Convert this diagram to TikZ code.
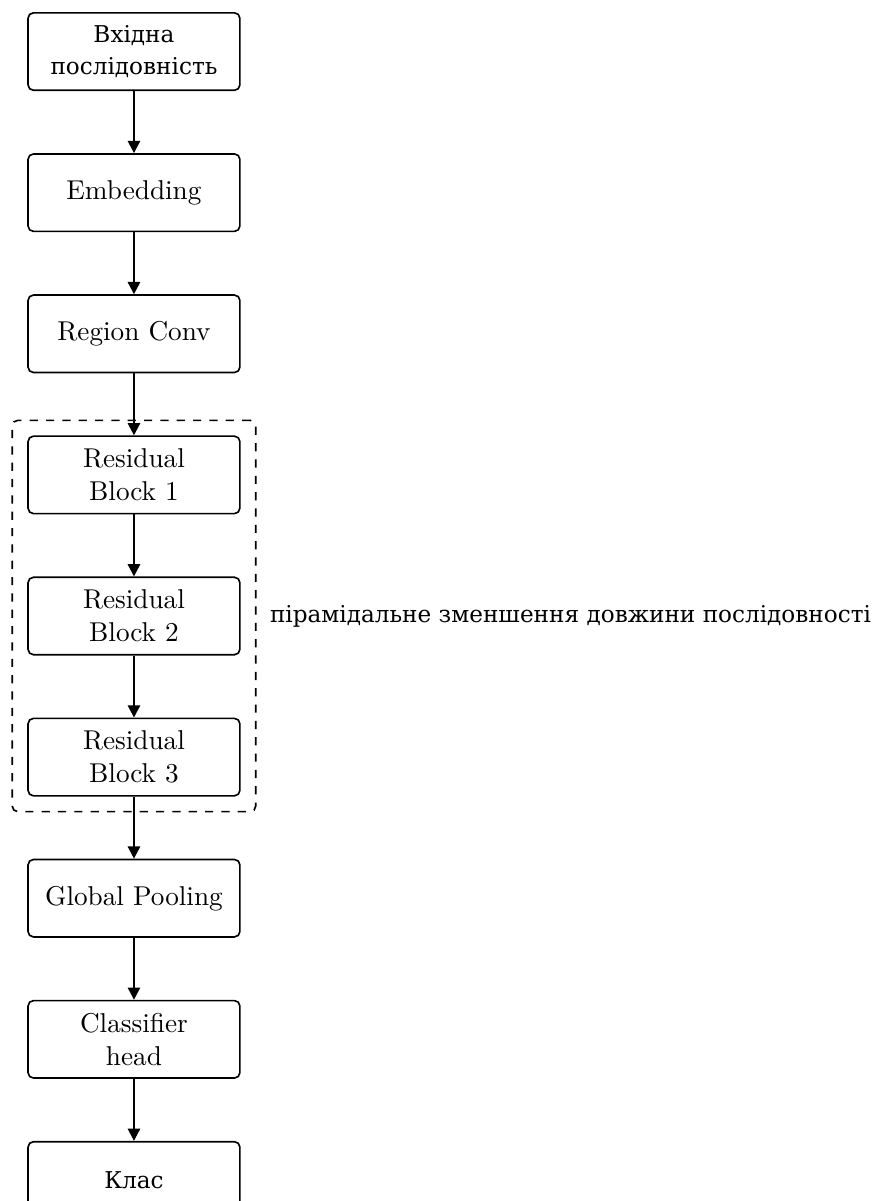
\documentclass[tikz,border=0pt]{standalone}
\usepackage{fontspec}
\usepackage{tikz}
\usetikzlibrary{arrows.meta,positioning,fit}
\newfontfamily\cyr[Scale=0.85]{DejaVu Serif}

\begin{document}
\begin{tikzpicture}[node distance=0.8cm,
    block/.style={draw, semithick, rounded corners=2pt, text width=2.5cm,
                  minimum height=1cm, align=center},
    flow/.style={-{Triangle[length=4.5pt,width=4.5pt]}, thick}]
  \useasboundingbox (-1.729,0.155) rectangle (9.741,-15.345);
  \node[block, anchor=north] (inp) at (0,0) {\cyr Вхідна\\ послідовність};
  \node[block, below=of inp] (emb) {Embedding};
  \node[block, below=of emb] (reg) {Region Conv};
  \node[block, below=of reg] (res1) {Residual\\ Block 1};
  \node[block, below=of res1] (res2) {Residual\\ Block 2};
  \node[block, below=of res2] (res3) {Residual\\ Block 3};
  \node[block, below=of res3] (pool) {Global Pooling};
  \node[block, below=of pool] (head) {Classifier\\ head};
  \node[block, below=of head] (cls) {\cyr Клас};
  % residual group
  \node[draw, semithick, dashed, rounded corners=2pt, inner sep=5.5pt, fit=(res1)(res3)] (grp) {};
  \node[right=0.05cm of grp] (lbl) {\cyr пірамідальне зменшення довжини послідовності};
  \draw[flow] (inp) -- (emb); \draw[flow] (emb) -- (reg);
  \draw[flow] (reg) -- (res1); \draw[flow] (res1) -- (res2);
  \draw[flow] (res2) -- (res3); \draw[flow] (res3) -- (pool);
  \draw[flow] (pool) -- (head); \draw[flow] (head) -- (cls);
\end{tikzpicture}
\end{document}
